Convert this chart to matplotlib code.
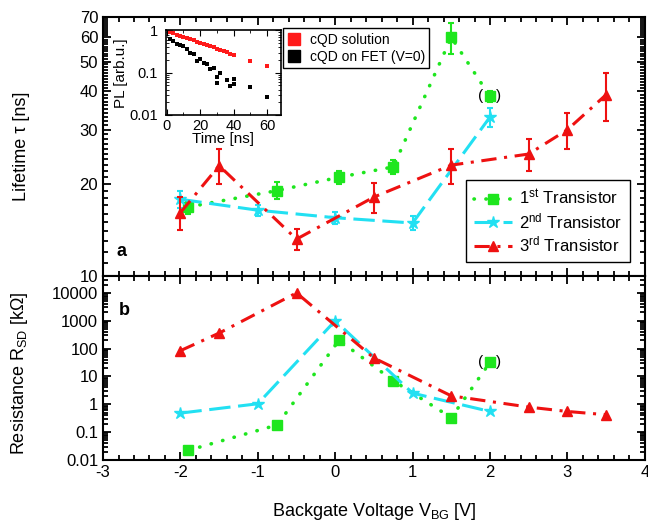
import matplotlib
matplotlib.use("Agg")
import matplotlib.pyplot as plt
from matplotlib.lines import Line2D
from matplotlib.ticker import FixedLocator, NullFormatter, MultipleLocator, LogLocator

plt.rcParams["font.family"] = ["Liberation Sans", "DejaVu Sans"]
plt.rcParams["mathtext.default"] = "regular"
plt.rcParams["axes.unicode_minus"] = False

# ---- panel a: lifetime vs backgate voltage ----
t1_v = [-1.9, -0.75, 0.05, 0.75, 1.5, 2.0]
t1_tau = [16.8, 19.0, 21.0, 22.7, 60.0, 38.5]
t1_err = [0.8, 1.2, 1.0, 1.2, 7.0, 1.5]

t2_v = [-2.0, -1.0, 0.0, 1.0, 2.0]
t2_tau = [17.8, 16.4, 15.5, 14.9, 33.0]
t2_err = [1.1, 0.7, 0.7, 0.8, 2.3]

t3_v = [-2.0, -1.5, -0.5, 0.5, 1.5, 2.5, 3.0, 3.5]
t3_tau = [16.1, 22.9, 13.2, 18.1, 23.0, 25.0, 30.0, 39.0]
t3_err = [2.0, 3.0, 1.0, 2.0, 3.0, 3.0, 4.0, 7.0]

# ---- panel b: resistance vs backgate voltage ----
r1 = [0.022, 0.18, 200, 7.0, 0.33, 32]
r2 = [0.48, 1.04, 1000, 2.5, 0.55]
r3 = [84, 360, 10000, 46, 2.0, 0.79, 0.55, 0.42]

# ---- inset: PL decay ----
sol_t = [2, 4, 6, 8, 10, 12, 14, 16, 18, 20, 22, 24, 26, 28, 30, 32, 34, 36, 38, 40, 50, 60]
sol_pl = [0.915, 0.85, 0.79, 0.748, 0.695, 0.658, 0.612, 0.579, 0.538, 0.509, 0.482,
          0.448, 0.424, 0.402, 0.373, 0.353, 0.329, 0.305, 0.284, 0.269, 0.193, 0.147]
fet_t = [2, 4, 6, 8, 10, 12, 14, 16, 18, 20, 22, 24, 26, 28, 30, 30, 32, 36, 38, 40, 40, 50, 60]
fet_pl = [0.63, 0.55, 0.48, 0.46, 0.42, 0.36, 0.29, 0.28, 0.19, 0.21, 0.17, 0.16, 0.12,
          0.13, 0.080, 0.058, 0.097, 0.067, 0.049, 0.070, 0.054, 0.047, 0.026]

GREEN = "#1EE61E"
CYAN = "#22E0F2"
RED = "#EE1111"

STY = {
    1: dict(color=GREEN, ls=(0, (0.1, 3.2)), lw=2.6, marker="s", ms=6.5, dash_capstyle="round"),
    2: dict(color=CYAN, ls=(0, (7, 2.5)), lw=2.2, marker="*", ms=9),
    3: dict(color=RED, ls=(0, (5, 2.5, 1, 2.5)), lw=2.2, marker="^", ms=7.5),
}

fig = plt.figure(figsize=(6.48, 5.25), dpi=100)
ax1 = fig.add_axes([0.159, 0.474, 0.836, 0.494])
ax2 = fig.add_axes([0.159, 0.124, 0.836, 0.350])


def style_axis(ax):
    ax.tick_params(which="both", direction="in", top=True, right=True, width=1.3,
                   labelsize=12)
    ax.tick_params(which="major", length=6)
    ax.tick_params(which="minor", length=3.5)
    for sp in ax.spines.values():
        sp.set_linewidth(1.5)
    ax.set_xlim(-3, 4)
    ax.xaxis.set_major_locator(MultipleLocator(1))
    ax.xaxis.set_minor_locator(MultipleLocator(0.2))


# top panel
for v, tau, err, k in [(t2_v, t2_tau, t2_err, 2), (t1_v, t1_tau, t1_err, 1), (t3_v, t3_tau, t3_err, 3)]:
    s = STY[k]
    ax1.errorbar(v, tau, yerr=err, fmt="none", ecolor=s["color"], elinewidth=1.5,
                 capsize=2.5, capthick=1.5, zorder=2 + k)
    ax1.plot(v, tau, zorder=3 + k, **s)
ax1.set_yscale("log")
ax1.set_ylim(10, 70)
ax1.yaxis.set_major_locator(FixedLocator([10, 20, 30, 40, 50, 60, 70]))
ax1.yaxis.set_minor_locator(FixedLocator([v for v in range(11, 70) if v % 10]))
ax1.yaxis.set_major_formatter(plt.FuncFormatter(lambda y, p: f"{y:.0f}"))
ax1.yaxis.set_minor_formatter(NullFormatter())
style_axis(ax1)
ax1.tick_params(labelbottom=False)
ax1.set_ylabel("Lifetime \u03c4 [ns]", fontsize=13)
ax1.yaxis.set_label_coords(-0.135, 0.5)
ax1.text(0.035, 0.095, "a", transform=ax1.transAxes, fontsize=13, fontweight="bold",
         ha="center", va="center")
for dx, ch in [(-7, "("), (6, ")")]:
    ax1.annotate(ch, (t1_v[-1], t1_tau[-1]), xytext=(dx, 0), textcoords="offset points",
                 ha="center", va="center", fontsize=11)

handles = [Line2D([], [], **STY[k]) for k in (1, 2, 3)]
labels = ["1$^{st}$ Transistor", "2$^{nd}$ Transistor", "3$^{rd}$ Transistor"]
leg = ax1.legend(handles, labels, loc="lower right", bbox_to_anchor=(0.972, 0.054),
                 fontsize=12, fancybox=False, edgecolor="black", framealpha=1,
                 handlelength=2.3, handletextpad=0.4, borderpad=0.45, labelspacing=0.22,
                 borderaxespad=0)
leg.get_frame().set_linewidth(1.0)

# bottom panel
for v, r, k in [(t2_v, r2, 2), (t1_v, r1, 1), (t3_v, r3, 3)]:
    ax2.plot(v, r, zorder=3 + k, **STY[k])
ax2.set_yscale("log")
ax2.set_ylim(0.01, 4e4)
ax2.yaxis.set_major_locator(FixedLocator([0.01, 0.1, 1, 10, 100, 1000, 10000]))
ax2.yaxis.set_minor_locator(LogLocator(base=10, subs=range(2, 10), numticks=20))
ax2.yaxis.set_major_formatter(plt.FuncFormatter(lambda y, p: f"{y:g}"))
ax2.yaxis.set_minor_formatter(NullFormatter())
style_axis(ax2)
ax2.set_ylabel("Resistance R$_{SD}$ [k\u03a9]", fontsize=13)
ax2.yaxis.set_label_coords(-0.135, 0.47)
ax2.set_xlabel("Backgate Voltage V$_{BG}$ [V]", fontsize=13, labelpad=15)
ax2.text(0.04, 0.815, "b", transform=ax2.transAxes, fontsize=13, fontweight="bold",
         ha="center", va="center")
for dx, ch in [(-7, "("), (6, ")")]:
    ax2.annotate(ch, (t1_v[-1], r1[-1]), xytext=(dx, 0), textcoords="offset points",
                 ha="center", va="center", fontsize=11)

# inset
axi = fig.add_axes([0.256, 0.781, 0.177, 0.161])
axi.plot(sol_t, sol_pl, "s", color="#FF1A1A", ms=2.8, mew=0)
axi.plot(fet_t, fet_pl, "s", color="black", ms=3.0, mew=0)
axi.set_yscale("log")
axi.set_ylim(0.01, 1)
axi.set_xlim(-0.5, 68)
axi.xaxis.set_major_locator(MultipleLocator(20))
axi.xaxis.set_minor_locator(MultipleLocator(10))
axi.yaxis.set_major_locator(FixedLocator([0.01, 0.1, 1]))
axi.yaxis.set_major_formatter(plt.FuncFormatter(lambda y, p: f"{y:g}"))
axi.yaxis.set_minor_formatter(NullFormatter())
axi.tick_params(which="both", direction="in", top=True, right=True, labelsize=10.5)
axi.tick_params(axis="x", pad=3)
axi.tick_params(axis="y", pad=6)
axi.tick_params(which="major", length=4)
axi.tick_params(which="minor", length=2.5)
for sp in axi.spines.values():
    sp.set_linewidth(1.2)
axi.set_xlabel("Time [ns]", fontsize=11, labelpad=-1)
axi.set_ylabel("PL [arb.u.]", fontsize=11, labelpad=1)

ih = [Line2D([], [], ls="none", marker="s", ms=8.5, color="#FF1A1A"),
      Line2D([], [], ls="none", marker="s", ms=8.5, color="black")]
ileg = fig.legend(ih, ["cQD solution", "cQD on FET (V=0)"], loc="upper left",
                  bbox_to_anchor=(0.437, 0.946), fontsize=10, fancybox=False,
                  edgecolor="black", framealpha=1, handlelength=1.0, handletextpad=0.6,
                  borderpad=0.3, labelspacing=0.25, borderaxespad=0)
ileg.get_frame().set_linewidth(1.0)

fig.savefig("out.png", dpi=100)
